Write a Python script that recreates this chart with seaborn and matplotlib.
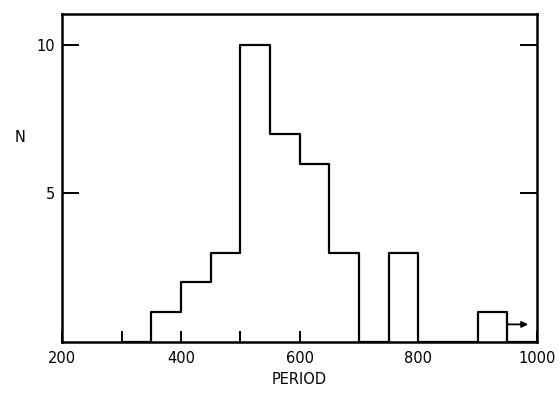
import numpy as np
import pandas as pd
import matplotlib
matplotlib.use("Agg")
import matplotlib.pyplot as plt
import seaborn as sns
from matplotlib.ticker import MultipleLocator

# histogram of periods, bin width 50 (empty bins at both ends close the outline)
bin_edges = [300, 350, 400, 450, 500, 550, 600, 650, 700, 750, 800, 850, 900, 950, 1000]
counts = [0, 1, 2, 3, 10, 7, 6, 3, 0, 3, 0, 0, 1, 0]
centers = [(a + b) / 2 for a, b in zip(bin_edges[:-1], bin_edges[1:])]

df = pd.DataFrame({"PERIOD": centers, "N": counts})

sns.set_style("ticks")
plt.rcParams["font.family"] = ["DejaVu Sans"]
plt.rcParams["text.color"] = "black"
plt.rcParams["xtick.color"] = "black"
plt.rcParams["ytick.color"] = "black"
plt.rcParams["axes.labelcolor"] = "black"

fig, ax = plt.subplots(figsize=(5.6, 3.94), dpi=100)
sns.histplot(data=df, x="PERIOD", weights="N", bins=bin_edges,
             element="step", fill=False, color="black", linewidth=1.6, ax=ax)

# arrow marking the open-ended last bin
ax.annotate("", xy=(985, 0.58), xytext=(950, 0.58),
            arrowprops=dict(arrowstyle="-|>", color="black", lw=1.3,
                            mutation_scale=9, shrinkA=0, shrinkB=0))

ax.set_xlim(200, 1000)
ax.set_ylim(0, 11.05)
ax.xaxis.set_major_locator(MultipleLocator(200))
ax.xaxis.set_minor_locator(MultipleLocator(100))
ax.set_yticks([5, 10])
ax.tick_params(axis="both", which="both", direction="in", labelsize=10.5,
               width=1.4, top=False, right=True, color="black")
ax.tick_params(axis="x", which="both", length=8, pad=7)
ax.tick_params(axis="y", length=12, pad=5)
for s in ax.spines.values():
    s.set_linewidth(1.8)
    s.set_color("black")

ax.set_xlabel("PERIOD", fontsize=10.5, labelpad=4)
ax.set_ylabel("N", fontsize=10.5, rotation=0)
ax.yaxis.set_label_coords(-0.088, 0.6)

fig.subplots_adjust(left=0.111, right=0.959, top=0.965, bottom=0.133)
fig.savefig("out.png", dpi=100)
